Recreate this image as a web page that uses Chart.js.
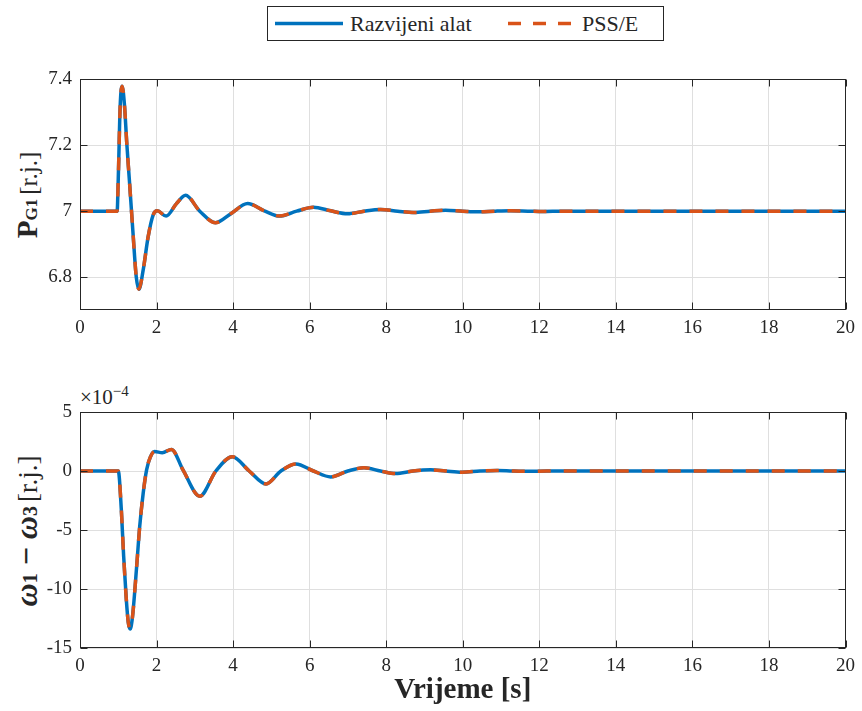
<!DOCTYPE html>
<html>
<head>
<meta charset="utf-8">
<script src="https://cdn.jsdelivr.net/npm/chart.js@4.4.0/dist/chart.umd.min.js"></script>
<style>
    body { margin: 0; background: #fff; width: 862px; height: 711px; position: relative; overflow: hidden;
           font-family: "Liberation Serif", "DejaVu Serif", serif; color: #262626; }
    canvas { position: absolute; left: 0; }
    #legend { position: absolute; left: 267px; top: 6px; width: 397px; height: 35px; box-sizing: border-box;
              border: 1px solid #262626; background: #fff; font-size: 22px; }
    #legend svg { position: absolute; top: 0; }
    #legend span { position: absolute; top: 4px; white-space: nowrap; }
    .ylabel { position: absolute; transform: translate(-50%, -50%) rotate(-90deg); white-space: nowrap; }
    #expo { position: absolute; left: 80px; top: 383px; font-size: 21px; }
</style>
</head>
<body>
<div id="legend">
    <svg style="left:7px" width="70" height="33"><line x1="0" y1="16.5" x2="68" y2="16.5" stroke="#0072BD" stroke-width="3.5"/></svg>
    <span style="left:82px">Razvijeni alat</span>
    <svg style="left:240px" width="70" height="33"><line x1="0" y1="16.5" x2="68" y2="16.5" stroke="#D95319" stroke-width="3.5" stroke-dasharray="13 12"/></svg>
    <span style="left:314px">PSS/E</span>
</div>
<div class="ylabel" style="left:27px; top:195px"><b style="font-size:29px">P</b><b style="font-size:17px">G1</b> <span style="font-size:25px">[r.j.]</span></div>
<div class="ylabel" style="left:26px; top:531px"><b style="font-size:32px"><i>ω</i><span style="font-size:20px">1</span> − <i>ω</i><span style="font-size:20px">3</span></b> <span style="font-size:27px">[r.j.]</span></div>
<div id="expo">×10<sup style="font-size:15px">−4</sup></div>
<canvas id="topChart" width="862" height="290" style="top:60px"></canvas>
<canvas id="bottomChart" width="862" height="331" style="top:380px"></canvas>
<script>
// time axis
const xTicks = [0, 2, 4, 6, 8, 10, 12, 14, 16, 18, 20];

// P_G1 [r.j.]
const tP = [0, 0.97, 1.0, 1.05, 1.10, 1.16, 1.22, 1.29, 1.38, 1.47, 1.54, 1.65, 1.78, 1.91, 2.02, 2.25, 2.52, 2.76, 3.13, 3.54,
            3.95, 4.38, 4.8, 5.21, 5.66, 6.1, 6.55, 6.99, 7.42, 7.85, 8.3, 8.72, 9.15, 9.55, 10.0, 10.4, 10.85, 11.25, 11.7, 12.1, 12.6, 20];
const pRazvijeni = [7.0, 7.0, 7.1, 7.32, 7.379, 7.325, 7.21, 7.094, 6.942, 6.80, 6.763, 6.821, 6.922, 6.988, 7.001, 6.985, 7.023, 7.048, 7.0, 6.965,
                    6.993, 7.023, 7.002, 6.985, 7.0, 7.012, 7.001, 6.992, 7.0, 7.005, 7.0, 6.996, 7.0, 7.003, 7.0, 6.998, 7.0, 7.001, 7.0, 6.999, 7.0, 7.0];
const pPSSE = [...pRazvijeni]; // PSS/E lies on top of the tool's curve
const yTicksP = [6.8, 7.0, 7.2, 7.4];
const yLabelsP = ['6.8', '7', '7.2', '7.4'];

// omega1 - omega3, in units of 1e-4
const tW = [0, 1.0, 1.08, 1.14, 1.21, 1.26, 1.31, 1.37, 1.48, 1.56, 1.65, 1.74, 1.84, 1.95, 2.15, 2.39, 2.69, 3.13, 3.55, 3.98,
            4.42, 4.86, 5.25, 5.64, 6.1, 6.55, 7.0, 7.42, 7.85, 8.25, 8.7, 9.16, 9.55, 9.98, 10.45, 10.9, 11.3, 11.75, 12.2, 20];
const wRazvijeni = [0, 0, -3.3, -7.2, -10.9, -12.8, -13.4, -12.4, -8.1, -4.7, -1.9, 0.1, 1.2, 1.65, 1.55, 1.83, 0.1, -2.14, 0, 1.21,
                    0, -1.1, 0, 0.6, 0, -0.5, 0, 0.28, 0, -0.22, 0, 0.1, 0, -0.1, 0, 0.05, 0, -0.03, 0, 0];
const wPSSE = [...wRazvijeni];
const yTicksW = [-15, -10, -5, 0, 5];
const yLabelsW = ['-15', '-10', '-5', '0', '5'];

const FONT = '"Liberation Serif", "DejaVu Serif", serif';
const INK = '#262626';

const toXY = (t, v) => t.map((x, i) => ({ x, y: v[i] }));

// MATLAB style box with inward ticks on all four sides
const boxPlugin = {
    id: 'matlabBox',
    afterDatasetsDraw(chart) {
        const { ctx, chartArea: a, scales } = chart;
        const L = Math.round(a.left) + 0.5, R = Math.round(a.right) - 0.5;
        const T = Math.round(a.top) + 0.5, B = Math.round(a.bottom) - 0.5;
        ctx.save();
        ctx.strokeStyle = INK;
        ctx.lineWidth = 1;
        ctx.strokeRect(L, T, R - L, B - T);
        ctx.beginPath();
        scales.x.ticks.forEach(tk => {
            const px = Math.round(scales.x.getPixelForValue(tk.value)) + 0.5;
            ctx.moveTo(px, B); ctx.lineTo(px, B - 7);
            ctx.moveTo(px, T); ctx.lineTo(px, T + 7);
        });
        scales.y.ticks.forEach(tk => {
            const py = Math.round(scales.y.getPixelForValue(tk.value)) + 0.5;
            ctx.moveTo(L, py); ctx.lineTo(L + 7, py);
            ctx.moveTo(R, py); ctx.lineTo(R - 7, py);
        });
        ctx.stroke();
        ctx.restore();
    }
};

function makeChart(id, t, a, b, yMin, yMax, yTicks, yLabels, padTop, xHeight, xTitle) {
    return new Chart(document.getElementById(id), {
        type: 'line',
        data: {
            datasets: [
                { label: 'Razvijeni alat', data: toXY(t, a), borderColor: '#0072BD', borderWidth: 3.5,
                  pointRadius: 0, cubicInterpolationMode: 'monotone', order: 2 },
                { label: 'PSS/E', data: toXY(t, b), borderColor: '#D95319', borderWidth: 3.5, borderDash: [13, 13],
                  pointRadius: 0, cubicInterpolationMode: 'monotone', order: 1 }
            ]
        },
        options: {
            responsive: false,
            animation: false,
            devicePixelRatio: 1,
            layout: { padding: { left: 0, right: 14, top: padTop, bottom: 0 } },
            plugins: { legend: { display: false }, tooltip: { enabled: false } },
            scales: {
                x: {
                    type: 'linear', min: 0, max: 20,
                    afterBuildTicks: s => { s.ticks = xTicks.map(v => ({ value: v })); },
                    afterFit: s => { s.height = xHeight; },
                    grid: { color: '#dfdfdf', drawTicks: false },
                    border: { display: false },
                    ticks: { color: INK, font: { family: FONT, size: 19 }, padding: 7, maxRotation: 0,
                             callback: v => String(v) },
                    title: xTitle ? { display: true, text: xTitle, color: INK,
                                      font: { family: FONT, size: 29, weight: 'bold' }, padding: { top: 0, bottom: 3 } }
                                  : { display: false }
                },
                y: {
                    min: yMin, max: yMax,
                    afterBuildTicks: s => { s.ticks = yTicks.map(v => ({ value: v })); },
                    afterFit: s => { s.width = 80; },
                    grid: { color: '#dfdfdf', drawTicks: false },
                    border: { display: false },
                    ticks: { color: INK, font: { family: FONT, size: 19 }, padding: 8,
                             callback: (v, i) => yLabels[i] }
                }
            }
        },
        plugins: [boxPlugin]
    });
}

makeChart('topChart', tP, pRazvijeni, pPSSE, 6.7, 7.4, yTicksP, yLabelsP, 19, 40, null);
makeChart('bottomChart', tW, wRazvijeni, wPSSE, -15, 5, yTicksW, yLabelsW, 32, 63, 'Vrijeme [s]');
</script>
</body>
</html>
